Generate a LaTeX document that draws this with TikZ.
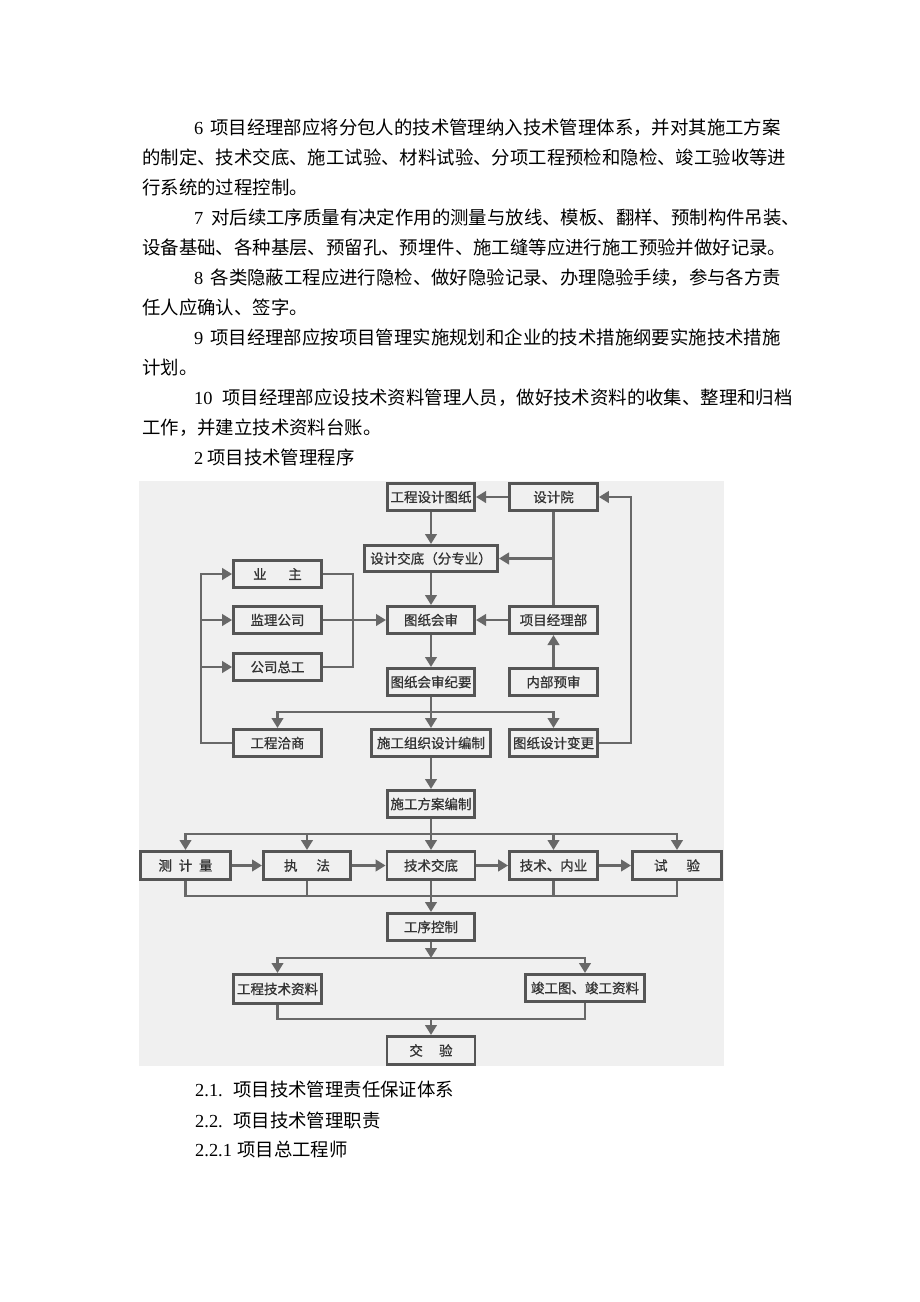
\documentclass[tikz,border=0pt]{standalone}
\usepackage{fontspec}
\setmainfont{Liberation Serif}
\newfontfamily\cjk{Noto Sans CJK SC}
\newfontfamily\cjkb[FakeBold=0.8]{Noto Sans CJK SC}
\usetikzlibrary{arrows.meta}
\definecolor{bgc}{HTML}{F0F0F0}
\definecolor{linec}{HTML}{686868}
\definecolor{boxc}{HTML}{555555}
\definecolor{txtc}{HTML}{333333}
\begin{document}
\begin{tikzpicture}[x=1pt,y=-1pt,
  txt/.style={anchor=base west,inner sep=0pt,font=\fontsize{18.4}{22}\selectfont},
  fbox/.style={draw=boxc,line width=2.8pt,inner sep=0pt,minimum height=27.2pt,minimum width=88pt,
    font=\cjkb\fontsize{13.5}{16}\selectfont,text=txtc},
  ln/.style={draw=linec,line width=2.8pt},
  arr/.style={ln,-{Triangle[width=11.5pt,length=10pt]}}]
\path[use as bounding box] (0,0) rectangle (920,1302);
\fill[white] (0,0) rectangle (920,1302);
% paragraph text
\node[txt] (t1) at (194,134.5) {\makebox[16pt][l]{6}\cjk 项目经理部应将分包人的技术管理纳入技术管理体系，并对其施工方案};
\node[txt] (t2) at (142,164.5) {\cjk 的制定、技术交底、施工试验、材料试验、分项工程预检和隐检、竣工验收等进};
\node[txt] (t3) at (142,194.5) {\cjk 行系统的过程控制。};
\node[txt] (t4) at (194,224.5) {\makebox[17pt][l]{7}\cjk 对后续工序质量有决定作用的测量与放线、模板、翻样、预制构件吊装、};
\node[txt] (t5) at (142,254.5) {\cjk 设备基础、各种基层、预留孔、预埋件、施工缝等应进行施工预验并做好记录。};
\node[txt] (t6) at (194,284.5) {\makebox[16.5pt][l]{8}\cjk 各类隐蔽工程应进行隐检、做好隐验记录、办理隐验手续，参与各方责};
\node[txt] (t7) at (142,314.5) {\cjk 任人应确认、签字。};
\node[txt] (t8) at (194,344.5) {\makebox[16pt][l]{9}\cjk 项目经理部应按项目管理实施规划和企业的技术措施纲要实施技术措施};
\node[txt] (t9) at (142,374.5) {\cjk 计划。};
\node[txt] (t10) at (194,404.5) {\makebox[28pt][l]{10}\cjk 项目经理部应设技术资料管理人员，做好技术资料的收集、整理和归档};
\node[txt] (t11) at (142,434.5) {\cjk 工作，并建立技术资料台账。};
\node[txt] (t12) at (194,464.5) {\makebox[13pt][l]{2}\cjk 项目技术管理程序};
\node[txt] (t13) at (195,1096.5) {\makebox[38pt][l]{2.1.}\cjk 项目技术管理责任保证体系};
\node[txt] (t14) at (195,1127.5) {\makebox[38pt][l]{2.2.}\cjk 项目技术管理职责};
\node[txt] (t15) at (195,1156.5) {\makebox[42pt][l]{2.2.1}\cjk 项目总工程师};
% diagram background
\fill[bgc] (139,481) rectangle (724,1066);
% boxes
\node[fbox,minimum width=87.2pt] (gcsj) at (431,497) {工程设计图纸};
\node[fbox] (sjy) at (553.5,497) {设计院};
\node[fbox,minimum width=133.2pt,minimum height=26.2pt] (sjjd) at (431,558.5) {设计交底（分专业）};
\node[fbox] (yz) at (277.5,574) {业\hspace{1.6em}主};
\node[fbox] (jl) at (277.5,620) {监理公司};
\node[fbox] (gszg) at (277.5,667) {公司总工};
\node[fbox,minimum width=87.2pt] (tzhs) at (431,620) {图纸会审};
\node[fbox] (xmjlb) at (553.5,620) {项目经理部};
\node[fbox,minimum width=87.2pt] (jiyao) at (431,682) {图纸会审纪要};
\node[fbox] (nbys) at (553.5,682) {内部预审};
\node[fbox] (gcqs) at (277.5,743) {工程洽商};
\node[fbox,minimum width=119.2pt] (sgzz) at (431,743) {施工组织设计编制};
\node[fbox] (tzbg) at (553.5,743) {图纸设计变更};
\node[fbox,minimum width=87.2pt] (sgfa) at (431,804) {施工方案编制};
\node[fbox,minimum width=90.2pt,minimum height=28.2pt] (cl) at (185.5,865.5) {测\hspace{0.5em}计\hspace{0.5em}量};
\node[fbox,minimum width=87.2pt,minimum height=28.2pt] (zf) at (307,865.5) {执\hspace{1.4em}法};
\node[fbox,minimum height=28.2pt] (jsjd) at (431,865.5) {技术交底};
\node[fbox,minimum height=28.2pt] (nyw) at (553.5,865.5) {技术、内业};
\node[fbox,minimum width=89.2pt,minimum height=28.2pt] (sy) at (677,865.5) {试\hspace{1.4em}验};
\node[fbox,minimum width=87.2pt] (gxkz) at (431,927) {工序控制};
\node[fbox,minimum height=29.2pt] (gczl) at (277.5,989) {工程技术资料};
\node[fbox,minimum width=119.2pt] (jgt) at (585,988) {竣工图、竣工资料};
\node[fbox,minimum height=28.2pt] (jy) at (431,1050.5) {交\hspace{1.2em}验};
% helper coordinates
\coordinate (br) at (353,600);
\coordinate (lx) at (201,700);
\coordinate (rx) at (631,700);
\coordinate (s1) at (431,712);
\coordinate (s2) at (431,834);
\coordinate (m2) at (431,896);
\coordinate (s3) at (431,958);
\coordinate (m3) at (431,1019);
% connectors, upper part
\draw[arr] (sjy.west) -- (gcsj.east);
\draw[arr] (gcsj.south) -- (sjjd.north);
\draw[ln] (sjy.south) -- (xmjlb.north);
\draw[arr] (sjy.south |- sjjd.east) -- (sjjd.east);
\draw[arr] (sjjd.south) -- (tzhs.north);
\draw[arr] (xmjlb.west) -- (tzhs.east);
\draw[arr] (nbys.north) -- (xmjlb.south);
\draw[arr] (tzhs.south) -- (jiyao.north);
\draw[ln] (yz.east) -- (yz.east -| br) -- (gszg.east -| br) -- (gszg.east);
\draw[arr] (jl.east) -- (tzhs.west);
\draw[arr] (jiyao.south) -- (sgzz.north);
\draw[arr] (s1) -| (gcqs.north);
\draw[arr] (s1) -| (tzbg.north);
\draw[arr] (gcqs.west) -- (gcqs.west -| lx) -- (yz.west -| lx) -- (yz.west);
\draw[arr] (jl.west -| lx) -- (jl.west);
\draw[arr] (gszg.west -| lx) -- (gszg.west);
\draw[arr] (tzbg.east) -- (tzbg.east -| rx) -- (sjy.east -| rx) -- (sjy.east);
% lower part
\draw[arr] (sgzz.south) -- (sgfa.north);
\draw[ln] (sgfa.south) -- (s2);
\draw[arr] (s2) -| (cl.north);
\draw[arr] (s2) -| (zf.north);
\draw[arr] (s2) -- (jsjd.north);
\draw[arr] (s2) -| (nyw.north);
\draw[arr] (s2) -| (sy.north);
\draw[arr] (cl.east) -- (zf.west);
\draw[arr] (zf.east) -- (jsjd.west);
\draw[arr] (jsjd.east) -- (nyw.west);
\draw[arr] (nyw.east) -- (sy.west);
\draw[ln] (cl.south) |- (m2);
\draw[ln] (sy.south) |- (m2);
\draw[ln] (zf.south) -- (zf.south |- m2);
\draw[ln] (nyw.south) -- (nyw.south |- m2);
\draw[arr] (jsjd.south) -- (gxkz.north);
\draw[arr] (gxkz.south) -- (s3);
\draw[arr] (s3) -| (gczl.north);
\draw[arr] (s3) -| (jgt.north);
\draw[ln] (gczl.south) |- (m3);
\draw[ln] (jgt.south) |- (m3);
\draw[arr] (m3) -- (jy.north);
\end{tikzpicture}
\end{document}
